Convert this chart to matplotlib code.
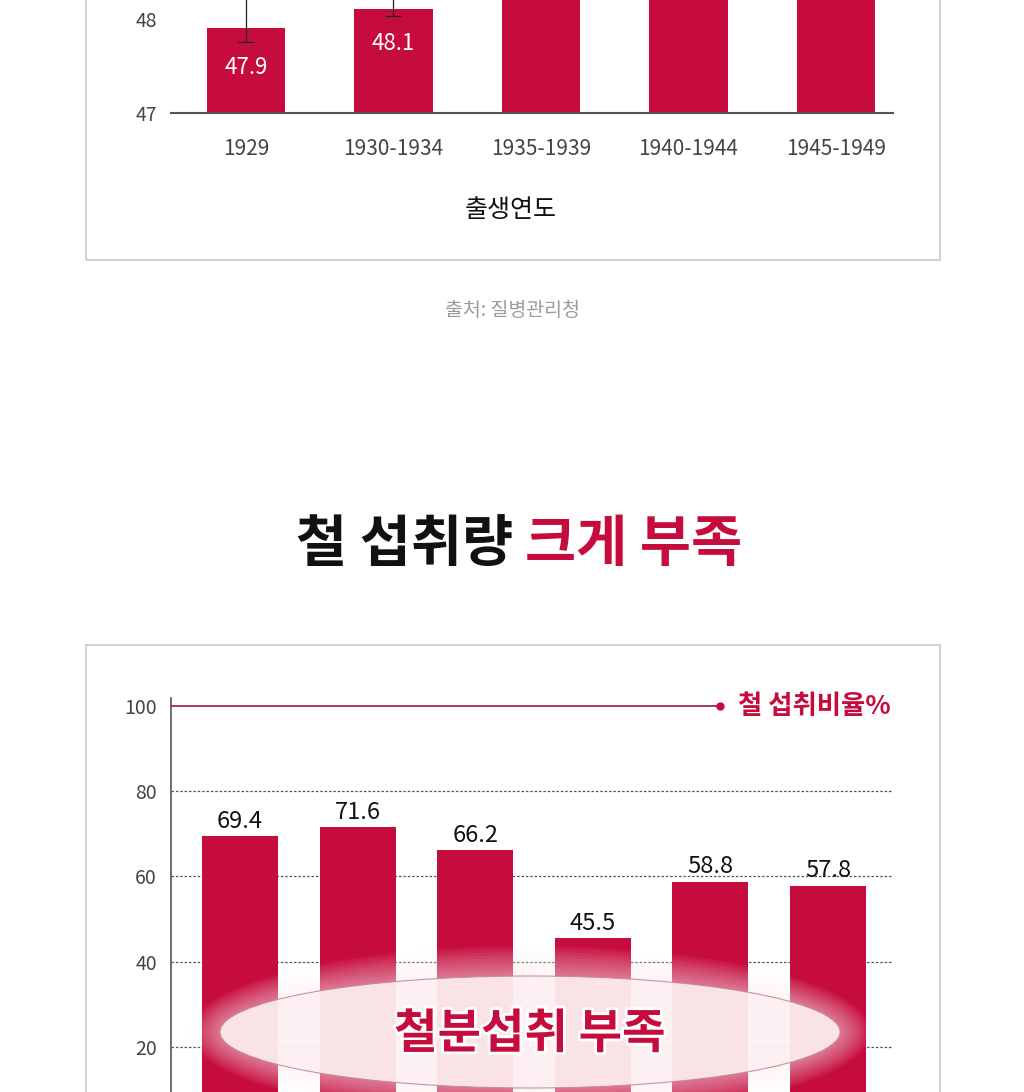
import matplotlib
matplotlib.use("Agg")
import matplotlib.pyplot as plt
import matplotlib.patheffects as pe
from matplotlib.patches import Rectangle, Ellipse
import numpy as np

plt.rcParams['font.family'] = ['Noto Sans CJK KR', 'DejaVu Sans']

# Top chart (cropped): 출생연도 by period
top_cats = ['1929', '1930-1934', '1935-1939', '1940-1944', '1945-1949']
top_vals = [47.9, 48.1, 48.6, 48.9, 49.2]
top_err_lo = [0.15, 0.07]
top_err_hi = [0.40, 0.30]

# Bottom chart: 철 섭취비율 %
iron_vals = [69.4, 71.6, 66.2, 45.5, 58.8, 57.8]

RED = '#c60c3d'
W, H = 1024, 1092


def fbox(x0, y0, x1, y1):
    # pixel box (top-left origin) -> figure fraction [l, b, w, h]
    return [x0 / W, 1 - y1 / H, (x1 - x0) / W, (y1 - y0) / H]


fig = plt.figure(figsize=(W / 100, H / 100), dpi=100)
fig.patch.set_facecolor('white')

# panel frames
fig.add_artist(Rectangle((86 / W, 1 - 260 / H), (940 - 86) / W, 270 / H,
                         transform=fig.transFigure, fill=False,
                         ec='#c8c8c8', lw=1.2))
fig.add_artist(Rectangle((86 / W, 1 - 1100 / H), (940 - 86) / W, 455 / H,
                         transform=fig.transFigure, fill=False,
                         ec='#c8c8c8', lw=1.2))

# ---- top chart ----
ax1 = fig.add_axes(fbox(171, 0, 893, 113))
x1 = np.arange(len(top_cats))
ax1.bar(x1, top_vals, width=0.53, color=RED, zorder=2)
ax1.errorbar(x1[:2], top_vals[:2], yerr=[top_err_lo, top_err_hi],
             fmt='none', ecolor='#222222', elinewidth=0.9, capsize=6,
             capthick=0.9, zorder=3)
for xi, v, off in zip(x1[:2], top_vals[:2], [0.42, 0.36]):
    ax1.text(xi, v - off, f'{v}', ha='center', va='center',
             color='white', fontsize=16, zorder=4)
ax1.set_xlim(-0.508, 4.386)
ax1.set_ylim(47, 48.2)
ax1.set_yticks([47, 48])
ax1.set_yticklabels(['47', '48'], fontsize=14, color='#444444',
                    fontweight='light')
ax1.set_xticks(x1)
ax1.set_xticklabels(top_cats, fontsize=15, color='#444444', fontweight='light')
ax1.tick_params(axis='x', length=0, pad=18)
ax1.tick_params(axis='y', length=0, pad=10)
for s in ['top', 'right', 'left']:
    ax1.spines[s].set_visible(False)
ax1.spines['bottom'].set_color('#555555')
ax1.spines['bottom'].set_linewidth(1.5)
ax1.set_xlabel('출생연도', fontsize=18, color='#111111', fontweight='medium')
ax1.xaxis.set_label_coords(0.471, -0.74)

fig.text(512 / W, 1 - 310 / H, '출처: 질병관리청', ha='center', va='center',
         fontsize=14, color='#9a9a9a')

# title
fig.text(513 / W, 1 - 545 / H, '철 섭취량', ha='right', va='center',
         fontsize=40, fontweight='heavy', color='#111111')
fig.text(525 / W, 1 - 545 / H, '크게 부족', ha='left', va='center',
         fontsize=40, fontweight='heavy', color=RED)

# ---- bottom chart ----
ax2 = fig.add_axes(fbox(171, 698, 893, 1092))
x2 = np.arange(len(iron_vals))
ax2.bar(x2, iron_vals, width=0.646, color=RED, zorder=2)
for xi, v in zip(x2, iron_vals):
    ax2.text(xi, v + 0.8, f'{v}', ha='center', va='bottom',
             color='#111111', fontsize=17, zorder=4)
ax2.set_xlim(-0.587, 5.553)
ax2.set_ylim(9.4, 101.9)
ax2.set_yticks([20, 40, 60, 80, 100])
ax2.set_yticklabels(['20', '40', '60', '80', '100'], fontsize=14,
                    color='#444444', fontweight='light')
ax2.tick_params(axis='y', length=0, pad=10)
ax2.set_xticks([])
for yv in [20, 40, 60, 80]:
    ax2.axhline(yv, color='#555555', lw=0.9, ls=(0, (2, 1.5)), zorder=1)
for s in ['top', 'right', 'bottom']:
    ax2.spines[s].set_visible(False)
ax2.spines['left'].set_color('#555555')
ax2.spines['left'].set_linewidth(1.2)

# legend-like line at 100
ax2.plot([0, 0.76], [100, 100], transform=ax2.get_yaxis_transform(),
         color='#a3294f', lw=1.3, zorder=3, clip_on=False)
ax2.plot([0.76], [100], transform=ax2.get_yaxis_transform(), marker='o',
         ms=5, color=RED, zorder=3, clip_on=False)
fig.text(738 / W, 1 - 706 / H, '철 섭취비율%', ha='left', va='center',
         fontsize=19, fontweight='bold', color=RED)

# callout ellipse with glow
cx, cy, ew, eh = 530, 1032, 620, 112
for k in range(10, 0, -1):
    fig.add_artist(Ellipse((cx / W, 1 - cy / H), (ew + 6 * k) / W,
                           (eh + 6 * k) / H, transform=fig.transFigure,
                           fc='#fff4f6', ec='none', alpha=0.06, zorder=5))
fig.add_artist(Ellipse((cx / W, 1 - cy / H), ew / W, eh / H,
                       transform=fig.transFigure, fc='#fdf0f2', ec='#c08a98',
                       lw=0.8, alpha=0.9, zorder=6))
fig.text(cx / W, 1 - (cy + 2) / H, '철분섭취 부족', ha='center', va='center',
         fontsize=34, fontweight='heavy', color=RED, zorder=7,
         path_effects=[pe.withStroke(linewidth=4, foreground='white')])

fig.savefig('out.png', dpi=100, facecolor='white')
